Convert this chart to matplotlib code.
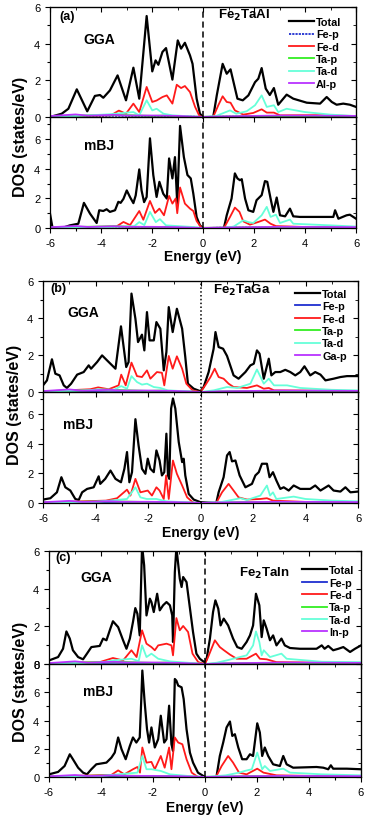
import matplotlib
matplotlib.use('Agg')
import matplotlib.pyplot as plt
from matplotlib.ticker import MultipleLocator

plt.rcParams['font.family'] = ['Liberation Sans', 'DejaVu Sans']

# ---------------- datos (E en eV, DOS en estados/eV) ----------------
colores = ['black', '#1f2fd0', '#ff1a1a', '#33ee22', '#66ffd9', '#b933ff']

# ---- (a) Fe2TaAl, GGA ----
a_gga_tot_e = [-6.0, -5.54, -5.28, -4.95, -4.54, -4.24, -4.04, -3.91, -3.65, -3.35, -3.02, -2.73, -2.5, -2.21,
               -1.99, -1.86, -1.75, -1.59, -1.45, -1.2, -0.99, -0.86, -0.71, -0.51, -0.41, -0.25, -0.12, 0.0,
               0.4, 0.54, 0.77, 0.93, 1.08, 1.35, 1.56, 1.78, 2.04, 2.17, 2.3, 2.46, 2.62, 2.78, 2.95, 3.28,
               3.54, 4.07, 4.59, 4.85, 5.05, 5.24, 5.5, 5.76, 6.0]
a_gga_tot = [0.0, 0.18, 0.45, 1.51, 0.31, 1.15, 1.2, 1.05, 1.45, 2.27, 0.91, 2.69, 1.0, 5.51,
             2.49, 3.09, 2.85, 3.55, 3.76, 2.04, 4.18, 3.73, 4.05, 3.36, 2.9, 1.0, 0.18, 0.0,
             0.0, 1.18, 2.9, 2.36, 2.6, 1.0, 0.91, 1.18, 1.9, 2.09, 2.67, 1.55, 1.2, 1.58, 0.67, 1.22,
             1.0, 0.78, 0.73, 1.09, 0.82, 0.67, 0.73, 0.67, 0.55]
a_gga_fed_e = [-6.0, -3.6, -3.3, -3.02, -2.73, -2.5, -2.21, -1.99, -1.82, -1.59, -1.42, -1.2, -1.03, -0.86,
               -0.71, -0.51, -0.31, -0.14, 0.0, 0.4, 0.6, 0.77, 0.93, 1.08, 1.25, 1.58, 1.97, 2.3, 2.5,
               2.78, 3.02, 4.5, 6.0]
a_gga_fed = [0.02, 0.1, 0.35, 0.18, 0.73, 0.27, 1.64, 0.82, 0.9, 1.09, 1.18, 0.73, 1.76, 1.58,
             1.69, 1.36, 0.55, 0.05, 0.0, 0.0, 0.64, 1.13, 0.82, 0.78, 0.36, 0.13, 0.22, 0.42, 0.24,
             0.24, 0.09, 0.1, 0.05]
a_gga_tad_e = [-6.0, -5.0, -3.65, -2.73, -2.5, -2.21, -1.99, -1.82, -1.55, -1.2, 0.0, 0.5, 1.06, 1.3, 1.71,
               2.04, 2.3, 2.5, 2.78, 2.95, 3.28, 4.0, 5.0, 6.0]
a_gga_tad = [0.02, 0.05, 0.15, 0.27, 0.09, 0.91, 0.36, 0.45, 0.18, 0.09, 0.0, 0.05, 0.36, 0.18, 0.31,
             0.64, 1.18, 0.55, 0.64, 0.27, 0.45, 0.27, 0.13, 0.05]

# ---- (a) Fe2TaAl, mBJ ----
a_mbj_tot_e = [-6.0, -5.9, -5.5, -5.22, -4.89, -4.67, -4.43, -4.17, -4.07, -3.91, -3.78, -3.65, -3.45, -3.32,
               -3.23, -3.12, -2.99, -2.86, -2.73, -2.64, -2.5, -2.41, -2.31, -2.21, -2.08, -1.95, -1.82, -1.71,
               -1.56, -1.42, -1.33, -1.2, -1.1, -1.01, -0.9, -0.75, -0.61, -0.48, -0.38, -0.25, -0.12, 0.0,
               0.82, 0.93, 1.12, 1.25, 1.35, 1.45, 1.52, 1.65, 1.78, 1.97, 2.1, 2.3, 2.43, 2.52, 2.65, 2.76,
               2.89, 3.02, 3.22, 3.41, 3.54, 3.8, 4.59, 5.11, 5.18, 5.31, 5.63, 5.76, 6.0]
a_mbj_tot = [0.97, 0.0, 0.02, 0.18, 0.29, 1.7, 0.97, 0.34, 1.2, 1.15, 1.27, 1.09, 1.2, 1.77,
             1.7, 1.97, 2.54, 2.08, 1.68, 2.2, 3.96, 2.54, 1.75, 2.1, 6.06, 3.58, 2.1, 3.12,
             2.32, 1.99, 4.7, 3.35, 4.79, 1.63, 6.9, 4.79, 3.58, 3.35, 2.32, 0.74, 0.18, 0.0,
             0.0, 0.86, 1.99, 3.69, 3.35, 3.23, 3.3, 1.99, 1.2, 1.09, 1.88, 2.22, 3.17, 3.12, 1.99, 1.09,
             2.06, 0.86, 0.79, 1.31, 0.79, 0.75, 0.75, 0.75, 1.2, 0.63, 0.86, 0.9, 0.63]
a_mbj_fed_e = [-6.0, -3.4, -3.12, -2.86, -2.5, -2.34, -2.08, -1.88, -1.71, -1.53, -1.33, -1.2, -1.07, -1.01,
               -0.9, -0.71, -0.51, -0.38, -0.25, -0.05, 0.82, 1.06, 1.25, 1.43, 1.58, 1.84, 2.17, 2.43,
               2.65, 2.86, 4.0, 6.0]
a_mbj_fed = [0.02, 0.1, 0.41, 0.2, 1.15, 0.56, 1.83, 1.02, 1.31, 0.86, 2.17, 1.65, 2.0, 1.0,
             2.74, 1.65, 1.31, 1.15, 0.47, 0.0, 0.0, 0.75, 1.38, 1.09, 0.45, 0.23, 0.41, 0.57,
             0.29, 0.13, 0.07, 0.05]
a_mbj_tad_e = [-6.0, -4.0, -2.7, -2.5, -2.3, -2.08, -1.85, -1.69, -1.45, -0.4, 0.0, 0.82, 1.2, 1.58, 1.78,
               1.97, 2.3, 2.5, 2.65, 2.86, 3.02, 3.41, 3.54, 5.0, 6.0]
a_mbj_tad = [0.02, 0.05, 0.12, 0.4, 0.2, 1.09, 0.4, 0.6, 0.18, 0.07, 0.0, 0.0, 0.1, 0.52, 0.4,
             0.34, 0.86, 1.43, 0.75, 0.9, 0.34, 0.57, 0.29, 0.18, 0.1]

# ---- (b) Fe2TaGa, GGA ----
b_gga_tot_e = [-6.0, -5.85, -5.66, -5.53, -5.37, -5.21, -5.09, -4.93, -4.7, -4.45, -4.26, -4.17, -3.94, -3.75,
               -3.56, -3.24, -3.03, -2.83, -2.74, -2.63, -2.48, -2.38, -2.23, -2.14, -2.04, -1.94, -1.78,
               -1.68, -1.53, -1.4, -1.3, -1.21, -1.06, -0.9, -0.7, -0.58, -0.48, -0.26, 0.0, 0.12, 0.31,
               0.5, 0.57, 0.69, 0.86, 1.01, 1.26, 1.45, 1.71, 1.9, 2.03, 2.15, 2.25, 2.41, 2.6, 2.7, 2.85,
               3.04, 3.23, 3.42, 3.61, 3.8, 3.96, 4.18, 4.37, 4.57, 4.76, 5.07, 5.33, 5.58, 5.83, 6.0]
b_gga_tot = [0.36, 0.63, 1.77, 0.99, 0.9, 0.36, 0.22, 0.45, 0.94, 1.08, 1.44, 1.26, 1.62, 1.98,
             1.71, 1.26, 3.55, 1.35, 1.62, 5.32, 3.96, 2.7, 3.1, 2.25, 4.32, 2.79, 2.79,
             3.78, 3.42, 1.17, 2.16, 4.59, 3.24, 4.5, 3.42, 1.89, 0.45, 0.18, 0.04, 0.27, 1.08,
             2.34, 3.24, 2.43, 2.34, 1.95, 0.9, 0.72, 1.08, 1.44, 1.53, 2.25, 2.07, 0.72, 1.8, 0.9, 1.08,
             1.08, 1.2, 1.08, 0.9, 1.08, 1.39, 0.9, 1.08, 0.94, 0.63, 0.72, 0.81, 0.86, 0.86, 0.86]
b_gga_fed_e = [-6.0, -4.2, -3.9, -3.5, -3.12, -3.02, -2.85, -2.63, -2.42, -2.23, -2.04, -1.91, -1.66, -1.47,
               -1.38, -1.21, -1.06, -0.9, -0.7, -0.54, -0.3, 0.0, 0.18, 0.38, 0.54, 0.69, 0.88, 1.07,
               1.26, 1.77, 2.15, 2.41, 2.6, 2.8, 4.0, 6.0]
b_gga_fed = [0.03, 0.15, 0.25, 0.15, 0.36, 0.94, 0.36, 1.59, 0.86, 0.81, 1.17, 0.72, 1.08, 1.04,
             0.36, 1.95, 1.26, 1.93, 1.26, 0.45, 0.09, 0.0, 0.36, 0.81, 1.26, 0.81, 0.72, 0.45,
             0.27, 0.22, 0.36, 0.18, 0.22, 0.09, 0.08, 0.05]
b_gga_tad_e = [-6.0, -4.2, -3.9, -3.3, -3.02, -2.8, -2.63, -2.42, -2.23, -2.04, -1.78, -1.53, -1.25, 0.0,
               0.5, 1.01, 1.4, 1.9, 2.15, 2.41, 2.6, 2.8, 3.3, 3.8, 5.0, 6.0]
b_gga_tad = [0.02, 0.1, 0.15, 0.12, 0.32, 0.18, 0.86, 0.54, 0.4, 0.45, 0.27, 0.22, 0.09, 0.0,
             0.09, 0.27, 0.22, 0.45, 1.22, 0.45, 0.72, 0.36, 0.36, 0.22, 0.12, 0.09]

# ---- (b) Fe2TaGa, mBJ ----
b_mbj_tot_e = [-6.0, -5.72, -5.47, -5.3, -5.15, -4.96, -4.77, -4.64, -4.51, -4.32, -4.07, -3.88, -3.82,
               -3.63, -3.43, -3.24, -3.03, -2.9, -2.8, -2.71, -2.61, -2.48, -2.36, -2.23, -2.1, -2.01, -1.91,
               -1.78, -1.68, -1.56, -1.47, -1.38, -1.3, -1.24, -1.19, -1.12, -1.05, -0.96, -0.83, -0.7,
               -0.64, -0.58, -0.45, -0.26, 0.0, 0.6, 0.69, 0.88, 1.01, 1.11, 1.2, 1.33, 1.49, 1.71, 1.96,
               2.09, 2.22, 2.34, 2.53, 2.63, 2.76, 2.89, 3.04, 3.17, 3.36, 3.55, 3.8, 4.18, 4.37, 4.57,
               4.88, 5.07, 5.33, 5.52, 5.71, 6.0]
b_mbj_tot = [0.23, 0.32, 0.72, 1.74, 1.06, 0.84, 0.27, 0.2, 0.72, 0.95, 1.06, 1.8, 1.29,
             1.63, 2.19, 1.63, 1.4, 2.31, 3.44, 1.4, 2.08, 5.66, 3.89, 2.31, 1.97, 2.99, 2.31,
             2.08, 3.55, 2.87, 1.86, 2.08, 4.68, 1.86, 1.63, 6.38, 7.06, 6.38, 4.12, 2.76,
             2.99, 1.86, 0.61, 0.23, 0.05, 0.0, 0.72, 1.74, 3.21, 3.44, 2.81, 2.87, 1.86, 1.06, 1.29,
             1.86, 2.08, 2.65, 2.65, 1.74, 2.08, 1.52, 0.95, 1.06, 0.84, 1.18, 0.95, 0.95, 1.18, 0.84,
             1.18, 0.84, 0.77, 1.06, 0.72, 0.77]
b_mbj_fed_e = [-6.0, -3.6, -3.18, -2.8, -2.67, -2.48, -2.29, -2.01, -1.85, -1.68, -1.56, -1.4, -1.31,
               -1.21, -1.05, -0.9, -0.7, -0.51, -0.26, 0.6, 0.82, 1.07, 1.26, 1.45, 1.77, 2.28, 2.53,
               2.76, 4.0, 6.0]
b_mbj_fed = [0.03, 0.16, 0.32, 0.9, 0.5, 1.63, 0.72, 0.84, 0.5, 1.06, 0.84, 0.27, 1.86,
             0.27, 2.87, 1.97, 1.18, 0.38, 0.0, 0.0, 0.72, 1.29, 0.84, 0.38, 0.23, 0.27, 0.32,
             0.16, 0.07, 0.05]
b_mbj_tad_e = [-6.0, -4.0, -3.5, -2.8, -2.48, -2.29, -2.05, -1.68, -1.3, -0.5, 0.0, 0.75, 1.52, 1.77,
               2.28, 2.53, 2.65, 2.76, 2.89, 3.55, 4.0, 5.0, 6.0]
b_mbj_tad = [0.02, 0.08, 0.15, 0.27, 1.06, 0.38, 0.27, 0.27, 0.11, 0.04, 0.0, 0.05, 0.32, 0.2,
             0.5, 1.18, 0.5, 0.72, 0.27, 0.43, 0.27, 0.16, 0.11]

# ---- (c) Fe2TaIn, GGA ----
c_gga_tot_e = [-6.0, -5.65, -5.46, -5.33, -5.2, -5.08, -4.88, -4.69, -4.54, -4.37, -4.05, -3.92, -3.79,
               -3.64, -3.54, -3.34, -3.15, -3.02, -2.89, -2.77, -2.68, -2.6, -2.51, -2.42, -2.34, -2.25,
               -2.12, -2.06, -1.97, -1.84, -1.74, -1.61, -1.48, -1.35, -1.26, -1.23, -1.16, -1.1, -0.97,
               -0.9, -0.84, -0.71, -0.61, -0.46, -0.33, -0.2, 0.0, 0.06, 0.19, 0.31, 0.4, 0.51, 0.6, 0.72,
               0.89, 1.08, 1.24, 1.41, 1.6, 1.73, 1.85, 1.96, 2.09, 2.18, 2.26, 2.37, 2.5, 2.62, 2.75,
               2.94, 3.07, 3.27, 3.65, 4.29, 4.49, 4.6, 4.74, 4.93, 5.13, 5.32, 5.58, 5.77, 6.0]
c_gga_tot = [0.19, 0.37, 0.81, 1.73, 1.35, 0.73, 0.37, 0.25, 0.55, 0.9, 0.96, 1.35, 1.26,
             1.88, 2.27, 1.96, 1.26, 0.81, 1.35, 2.23, 2.97, 2.67, 1.52, 6.3, 5.24, 2.58,
             3.47, 3.29, 2.76, 3.73, 2.85, 3.12, 3.29, 3.12, 2.58, 1.17, 4.88, 6.2, 4.53,
             4.09, 4.62, 4.35, 3.29, 1.7, 0.55, 0.28, 0.07, 0.25, 1.35, 2.76, 3.38, 2.94, 2.05, 2.41,
             2.05, 1.35, 0.9, 0.81, 1.17, 1.52, 2.05, 3.73, 3.12, 1.43, 2.32, 1.88, 1.26, 1.52, 0.99,
             1.35, 0.99, 0.85, 0.81, 0.81, 0.99, 0.81, 0.96, 0.73, 0.81, 0.9, 0.64, 0.81, 0.99]
c_gga_fed_e = [-6.0, -4.05, -3.54, -3.15, -2.83, -2.63, -2.42, -2.25, -2.06, -1.93, -1.8, -1.48, -1.29,
               -1.23, -1.1, -0.97, -0.84, -0.65, -0.48, -0.26, 0.0, 0.12, 0.38, 0.57, 0.73, 0.96, 1.22,
               1.6, 1.96, 2.11, 2.37, 2.75, 4.0, 6.0]
c_gga_fed = [0.03, 0.1, 0.32, 0.19, 0.73, 0.37, 1.79, 1.08, 0.9, 0.73, 0.99, 1.08, 0.99,
             0.46, 2.44, 1.79, 2.02, 1.7, 0.55, 0.1, 0.0, 0.37, 1.26, 0.9, 0.73, 0.5, 0.28,
             0.28, 0.55, 0.28, 0.25, 0.1, 0.08, 0.05]
c_gga_tad_e = [-6.0, -4.0, -3.54, -2.83, -2.55, -2.42, -2.25, -2.06, -1.8, -1.35, 0.0, 0.45, 0.83, 1.08,
               1.6, 1.85, 1.96, 2.09, 2.18, 2.26, 2.5, 2.94, 3.14, 4.5, 6.0]
c_gga_tad = [0.02, 0.08, 0.19, 0.28, 0.15, 0.99, 0.37, 0.55, 0.28, 0.14, 0.0, 0.07, 0.19, 0.28,
             0.46, 0.99, 1.73, 1.17, 0.46, 0.73, 0.37, 0.55, 0.28, 0.12, 0.1]

# ---- (c) Fe2TaIn, mBJ ----
c_mbj_tot_e = [-6.0, -5.65, -5.4, -5.2, -5.08, -4.88, -4.69, -4.54, -4.37, -4.18, -3.79, -3.6, -3.47,
               -3.34, -3.21, -3.05, -2.89, -2.77, -2.64, -2.51, -2.45, -2.41, -2.32, -2.23, -2.15, -2.06,
               -1.93, -1.8, -1.7, -1.57, -1.48, -1.38, -1.29, -1.23, -1.16, -1.1, -1.03, -0.9, -0.82,
               -0.71, -0.58, -0.46, -0.27, 0.0, 0.44, 0.57, 0.7, 0.83, 0.96, 1.05, 1.15, 1.28, 1.43, 1.6,
               1.73, 1.85, 2.01, 2.11, 2.2, 2.3, 2.43, 2.62, 2.88, 3.01, 3.14, 3.39, 4.29, 4.55, 4.74,
               4.84, 4.93, 5.45, 6.0]
c_mbj_tot = [0.19, 0.36, 0.78, 1.61, 1.26, 0.66, 0.31, 0.19, 0.55, 0.9, 1.02, 1.37, 1.73,
             2.8, 1.97, 1.26, 2.2, 2.8, 2.44, 2.8, 5.52, 7.54, 5.28, 3.39, 2.44, 3.51,
             2.09, 2.68, 4.34, 2.44, 2.68, 5.05, 2.32, 1.85, 6.94, 6.82, 6.47, 6.35, 5.52,
             3.39, 1.73, 1.02, 0.31, 0.0, 0.0, 1.49, 2.44, 3.51, 3.93, 2.91, 3.03, 2.09, 1.26, 1.26,
             1.61, 1.49, 3.8, 3.15, 1.49, 2.09, 1.49, 0.9, 0.78, 1.49, 0.9, 0.66, 0.71, 0.66, 0.55,
             0.83, 0.59, 0.59, 0.55]
c_mbj_fed_e = [-6.0, -3.6, -3.34, -3.1, -2.77, -2.6, -2.5, -2.41, -2.25, -2.06, -1.93, -1.7, -1.55,
               -1.38, -1.29, -1.16, -1.03, -0.87, -0.71, -0.51, -0.27, 0.42, 0.64, 0.89, 1.08, 1.31,
               1.6, 2.01, 2.25, 2.75, 4.0, 6.0]
c_mbj_fed = [0.03, 0.15, 0.47, 0.19, 0.55, 0.71, 0.31, 2.09, 1.02, 1.07, 0.55, 1.49, 0.66,
             2.09, 0.55, 2.8, 2.44, 2.32, 1.26, 0.31, 0.0, 0.0, 0.78, 1.49, 1.02, 0.31,
             0.19, 0.59, 0.31, 0.12, 0.08, 0.06]
c_mbj_tad_e = [-6.0, -4.0, -3.34, -2.6, -2.41, -2.25, -2.06, -1.7, -1.35, -0.5, 0.0, 0.8, 1.31, 1.53,
               1.8, 2.01, 2.2, 2.3, 2.5, 3.01, 3.27, 4.5, 6.0]
c_mbj_tad = [0.02, 0.08, 0.19, 0.31, 1.49, 0.55, 0.55, 0.43, 0.19, 0.05, 0.0, 0.12, 0.31, 0.43,
             0.55, 1.73, 0.55, 0.78, 0.43, 0.59, 0.31, 0.19, 0.12]

# estados p (casi nulos), comunes a los tres compuestos
fep_e = [-6.0, -5.0, -3.5, -2.0, -0.3, 0.0, 0.6, 2.0, 4.0, 6.0]
fep = [0.02, 0.04, 0.07, 0.05, 0.02, 0.0, 0.02, 0.04, 0.03, 0.03]
tap_e = [-6.0, -5.0, -3.5, -3.0, -2.0, -1.5, -1.0, 0.0, 0.6, 2.0, 4.0, 6.0]
tap = [0.02, 0.07, 0.12, 0.1, 0.06, 0.08, 0.04, 0.0, 0.02, 0.05, 0.04, 0.03]
xp_e = [-6.0, -5.0, -4.5, -3.5, -3.0, -2.0, -1.0, 0.0, 0.6, 2.0, 3.0, 6.0]
xp = [0.05, 0.14, 0.07, 0.12, 0.08, 0.08, 0.06, 0.0, 0.03, 0.06, 0.08, 0.06]

x_ticks = [-6, -4, -2, 0, 2, 4, 6]

fig = plt.figure(figsize=(3.78, 8.2), dpi=100)


def dibujar_panel(rect_sup, rect_inf, gga, mbj, etiqueta, compuesto, elemento, estilo_ef,
                  ymax_inf, pos_textos, pos_leyenda, pos_ylabel, pos_xlabel):
    ax1 = fig.add_axes(rect_sup)
    ax2 = fig.add_axes(rect_inf)
    nombres = ['Total', 'Fe-p', 'Fe-d', 'Ta-p', 'Ta-d', elemento + '-p']
    for ax, curvas, ymax in ((ax1, gga, 6), (ax2, mbj, ymax_inf)):
        todos = [curvas[0], (fep_e, fep), curvas[1], (tap_e, tap), curvas[2], (xp_e, xp)]
        for k in range(6):
            e, d = todos[k]
            lw = 1.6 if k == 0 else 1.3
            ls = (0, (1.2, 0.6)) if (k == 1 and elemento == 'Al') else '-'
            ax.plot(e, d, color=colores[k], lw=lw, ls=ls, label=nombres[k], zorder=2 + k * 0.1)
        ax.axvline(0, color='black', lw=1.1, ls=estilo_ef, zorder=5)
        ax.set_xlim(-6, 6)
        ax.set_ylim(0, ymax)
        ax.xaxis.set_major_locator(MultipleLocator(2))
        ax.xaxis.set_minor_locator(MultipleLocator(1))
        ax.yaxis.set_major_locator(MultipleLocator(2))
        ax.yaxis.set_minor_locator(MultipleLocator(1))
        ax.tick_params(which='both', direction='out', top=False, right=False, labelsize=8)
        ax.tick_params(which='major', length=3.5, width=0.8)
        ax.tick_params(which='minor', length=2, width=0.8)
        sec = ax.secondary_yaxis('right')
        sec.yaxis.set_major_locator(MultipleLocator(2))
        sec.yaxis.set_minor_locator(MultipleLocator(1))
        sec.tick_params(which='both', direction='in', labelright=False)
        sec.tick_params(which='major', length=3.5)
        sec.tick_params(which='minor', length=2)
        top = ax.secondary_xaxis('top')
        top.xaxis.set_major_locator(MultipleLocator(2))
        top.xaxis.set_minor_locator(MultipleLocator(1))
        top.tick_params(which='both', direction='in', labeltop=False)
        top.tick_params(which='major', length=3.5)
        top.tick_params(which='minor', length=2)
        for s in ax.spines.values():
            s.set_linewidth(0.9)
    ax1.tick_params(labelbottom=False)
    ax2.set_xticks(x_ticks)
    ax2.set_xticklabels([str(t) for t in x_ticks])
    if ymax_inf > 7.9:
        ax2.set_yticks([0, 2, 4, 6, 8])

    ax1.text(pos_textos[0][0], pos_textos[0][1], etiqueta, transform=ax1.transAxes,
             fontsize=9, fontweight='bold', va='center')
    ax1.text(pos_textos[1][0], pos_textos[1][1], 'GGA', transform=ax1.transAxes,
             fontsize=10, fontweight='bold', va='center')
    ax1.text(pos_textos[2][0], pos_textos[2][1], compuesto, transform=ax1.transAxes,
             fontsize=9.5, fontweight='bold', va='center')
    ax2.text(pos_textos[3][0], pos_textos[3][1], 'mBJ', transform=ax2.transAxes,
             fontsize=10, fontweight='bold', va='center')
    ax1.legend(loc='upper left', bbox_to_anchor=pos_leyenda, frameon=False,
               prop={'weight': 'bold', 'size': 7.8}, handlelength=2.3, handletextpad=0.2,
               labelspacing=0.22, borderaxespad=0, borderpad=0)
    fig.text(pos_ylabel[0], pos_ylabel[1], 'DOS (states/eV)', rotation=90, fontsize=11.5,
             fontweight='bold', ha='center', va='center')
    fig.text(pos_xlabel[0], pos_xlabel[1], 'Energy (eV)', fontsize=10,
             fontweight='bold', ha='center', va='center')


dibujar_panel([0.1323, 0.8561, 0.8095, 0.1341], [0.1323, 0.7207, 0.8095, 0.1354],
              [(a_gga_tot_e, a_gga_tot), (a_gga_fed_e, a_gga_fed), (a_gga_tad_e, a_gga_tad)],
              [(a_mbj_tot_e, a_mbj_tot), (a_mbj_fed_e, a_mbj_fed), (a_mbj_tad_e, a_mbj_tad)],
              '(a)', r'Fe$_\mathbf{2}$TaAl', 'Al', (0, (4, 2.5)), 7.5,
              [(0.03, 0.92), (0.11, 0.71), (0.55, 0.93), (0.11, 0.75)],
              (0.78, 0.91), (0.053, 0.833), (0.537, 0.6866))

dibujar_panel([0.1138, 0.5207, 0.8333, 0.1354], [0.1138, 0.3854, 0.8333, 0.1354],
              [(b_gga_tot_e, b_gga_tot), (b_gga_fed_e, b_gga_fed), (b_gga_tad_e, b_gga_tad)],
              [(b_mbj_tot_e, b_mbj_tot), (b_mbj_fed_e, b_mbj_fed), (b_mbj_tad_e, b_mbj_tad)],
              '(b)', r'Fe$_\mathbf{2}$TaGa', 'Ga', (0, (1, 1.5)), 7.5,
              [(0.022, 0.94), (0.076, 0.72), (0.54, 0.92), (0.065, 0.71)],
              (0.80, 0.93), (0.038, 0.506), (0.53, 0.35))

dibujar_panel([0.1296, 0.1890, 0.8254, 0.1378], [0.1296, 0.0512, 0.8254, 0.1378],
              [(c_gga_tot_e, c_gga_tot), (c_gga_fed_e, c_gga_fed), (c_gga_tad_e, c_gga_tad)],
              [(c_mbj_tot_e, c_mbj_tot), (c_mbj_fed_e, c_mbj_fed), (c_mbj_tad_e, c_mbj_tad)],
              '(c)', r'Fe$_\mathbf{2}$TaIn', 'In', (0, (4, 2.5)), 8.0,
              [(0.02, 0.95), (0.10, 0.77), (0.61, 0.81), (0.11, 0.76)],
              (0.81, 0.875), (0.055, 0.168), (0.542, 0.015))

fig.savefig('out.png', dpi=100)
